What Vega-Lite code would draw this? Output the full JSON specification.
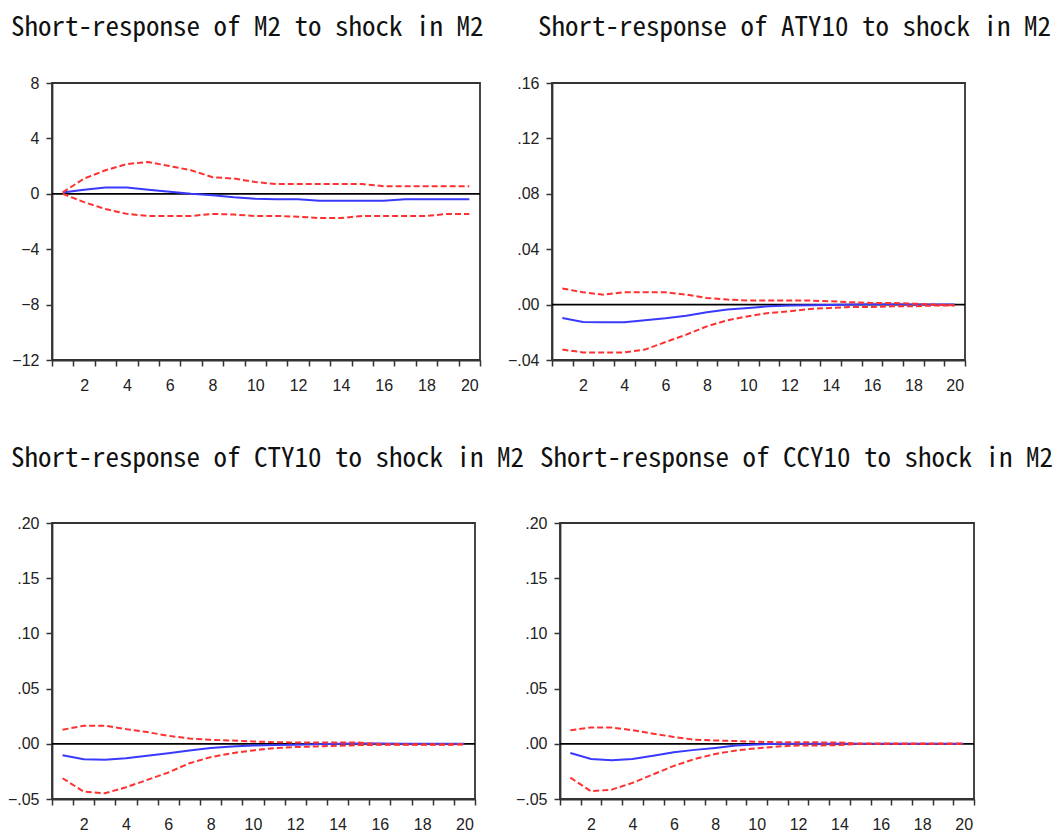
{
  "$schema": "https://vega.github.io/schema/vega-lite/v6.json",
  "padding": {"left": 6, "top": 13, "right": 0, "bottom": 0},
  "background": "white",
  "datasets": {
    "m2": [
      {"h":1,"r":0.1,"u":0.1,"l":0.0},{"h":2,"r":0.3,"u":1.1,"l":-0.6},{"h":3,"r":0.45,"u":1.7,"l":-1.1},{"h":4,"r":0.45,"u":2.15,"l":-1.45},{"h":5,"r":0.3,"u":2.3,"l":-1.6},
      {"h":6,"r":0.15,"u":2.0,"l":-1.6},{"h":7,"r":0.0,"u":1.7,"l":-1.6},{"h":8,"r":-0.1,"u":1.2,"l":-1.45},{"h":9,"r":-0.25,"u":1.1,"l":-1.5},{"h":10,"r":-0.35,"u":0.85,"l":-1.6},
      {"h":11,"r":-0.4,"u":0.7,"l":-1.6},{"h":12,"r":-0.4,"u":0.7,"l":-1.65},{"h":13,"r":-0.5,"u":0.7,"l":-1.75},{"h":14,"r":-0.5,"u":0.7,"l":-1.75},{"h":15,"r":-0.5,"u":0.7,"l":-1.6},
      {"h":16,"r":-0.5,"u":0.55,"l":-1.6},{"h":17,"r":-0.4,"u":0.55,"l":-1.6},{"h":18,"r":-0.4,"u":0.55,"l":-1.6},{"h":19,"r":-0.4,"u":0.55,"l":-1.45},{"h":20,"r":-0.4,"u":0.55,"l":-1.45}
    ],
    "aty": [
      {"h":1,"r":-0.0096,"u":0.0116,"l":-0.0325},{"h":2,"r":-0.0125,"u":0.0089,"l":-0.0345},{"h":3,"r":-0.0128,"u":0.0072,"l":-0.0345},{"h":4,"r":-0.0128,"u":0.0089,"l":-0.0345},{"h":5,"r":-0.0113,"u":0.0089,"l":-0.0325},
      {"h":6,"r":-0.0099,"u":0.0089,"l":-0.027},{"h":7,"r":-0.008,"u":0.0072,"l":-0.0217},{"h":8,"r":-0.0055,"u":0.0048,"l":-0.0157},{"h":9,"r":-0.0036,"u":0.0036,"l":-0.0113},{"h":10,"r":-0.0024,"u":0.0029,"l":-0.0084},
      {"h":11,"r":-0.0012,"u":0.0029,"l":-0.006},{"h":12,"r":-0.0007,"u":0.0029,"l":-0.0048},{"h":13,"r":-0.0005,"u":0.0029,"l":-0.0031},{"h":14,"r":-0.0003,"u":0.0024,"l":-0.0024},{"h":15,"r":0.0,"u":0.0017,"l":-0.0017},
      {"h":16,"r":0.0003,"u":0.0012,"l":-0.0017},{"h":17,"r":0.0002,"u":0.0012,"l":-0.0012},{"h":18,"r":0.0001,"u":0.0007,"l":-0.0012},{"h":19,"r":0.0,"u":0.0,"l":-0.0007},{"h":20,"r":0.0,"u":-0.0005,"l":-0.0007}
    ],
    "cty": [
      {"h":1,"r":-0.0103,"u":0.0127,"l":-0.0312},{"h":2,"r":-0.0139,"u":0.0164,"l":-0.0433},{"h":3,"r":-0.0145,"u":0.0164,"l":-0.0448},{"h":4,"r":-0.013,"u":0.0133,"l":-0.0394},{"h":5,"r":-0.0109,"u":0.0106,"l":-0.0327},
      {"h":6,"r":-0.0085,"u":0.0073,"l":-0.026},{"h":7,"r":-0.006,"u":0.0048,"l":-0.0176},{"h":8,"r":-0.0039,"u":0.0036,"l":-0.0121},{"h":9,"r":-0.0024,"u":0.003,"l":-0.0085},{"h":10,"r":-0.0015,"u":0.0021,"l":-0.006},
      {"h":11,"r":-0.0012,"u":0.0015,"l":-0.0039},{"h":12,"r":-0.0009,"u":0.0012,"l":-0.003},{"h":13,"r":-0.0003,"u":0.0012,"l":-0.0024},{"h":14,"r":0.0,"u":0.0012,"l":-0.0018},{"h":15,"r":0.0002,"u":0.0012,"l":-0.0012},
      {"h":16,"r":0.0002,"u":-0.0003,"l":-0.0009},{"h":17,"r":0.0001,"u":-0.0006,"l":-0.0009},{"h":18,"r":0.0,"u":-0.0006,"l":-0.0009},{"h":19,"r":0.0,"u":-0.0006,"l":-0.0009},{"h":20,"r":0.0,"u":-0.0003,"l":-0.0006}
    ],
    "ccy": [
      {"h":1,"r":-0.0083,"u":0.0123,"l":-0.0307},{"h":2,"r":-0.0138,"u":0.0148,"l":-0.043},{"h":3,"r":-0.0148,"u":0.0148,"l":-0.0415},{"h":4,"r":-0.0138,"u":0.0123,"l":-0.0354},{"h":5,"r":-0.0108,"u":0.0092,"l":-0.0277},
      {"h":6,"r":-0.0077,"u":0.0062,"l":-0.02},{"h":7,"r":-0.0055,"u":0.0037,"l":-0.0138},{"h":8,"r":-0.0037,"u":0.003,"l":-0.0092},{"h":9,"r":-0.0015,"u":0.0025,"l":-0.0061},{"h":10,"r":-0.0006,"u":0.0018,"l":-0.004},
      {"h":11,"r":0.0,"u":0.0015,"l":-0.0025},{"h":12,"r":0.0,"u":0.0015,"l":-0.0015},{"h":13,"r":0.0,"u":0.0013,"l":-0.0015},{"h":14,"r":0.0,"u":0.0012,"l":-0.0012},{"h":15,"r":0.0,"u":0.0,"l":0.0},
      {"h":16,"r":0.0,"u":0.0,"l":0.0},{"h":17,"r":0.0,"u":0.0,"l":0.0},{"h":18,"r":0.0,"u":0.0,"l":0.0},{"h":19,"r":0.0,"u":0.0,"l":0.0},{"h":20,"r":0.0,"u":0.0,"l":0.0}
    ]
  },
  "spacing": 50,
  "vconcat": [
    {
      "bounds": "flush",
      "spacing": 72,
      "hconcat": [
        {
          "width": 428, "height": 277,
          "title": {"text": "Short-response of M2 to shock in M2", "dx": -41, "offset": 33},
          "data": {"name": "m2"},
          "resolve": {"axis": {"x": "independent"}},
          "layer": [
            {"transform": [{"filter": "datum.h == 1"}], "mark": {"type": "rule", "color": "#000", "strokeWidth": 1.8}, "encoding": {"y": {"datum": 0, "type": "quantitative"}}},
            {"mark": {"type": "line", "color": "#3a3aff"}, "encoding": {
              "x": {"field": "h", "type": "quantitative", "title": null, "scale": {"domain": [0.5, 20.5], "nice": false, "zero": false},
                    "axis": {"orient": "bottom", "values": [0.5,1.5,2.5,3.5,4.5,5.5,6.5,7.5,8.5,9.5,10.5,11.5,12.5,13.5,14.5,15.5,16.5,17.5,18.5,19.5,20.5], "labels": false}},
              "y": {"field": "r", "type": "quantitative", "title": null, "scale": {"domain": [-12, 8], "nice": false, "zero": false},
                    "axis": {"values": [-12,-8,-4,0,4,8], "format": "d", "labelPadding": 7}}}},
            {"mark": {"type": "line", "color": "#ff3030", "strokeDash": [6, 3]}, "encoding": {
              "x": {"field": "h", "type": "quantitative", "title": null, "axis": {"orient": "bottom", "values": [2,4,6,8,10,12,14,16,18,20], "format": "d", "ticks": false, "domain": false, "labelPadding": 17, "offset": 0}},
              "y": {"field": "u", "type": "quantitative", "title": null}}},
            {"mark": {"type": "line", "color": "#ff3030", "strokeDash": [6, 3]}, "encoding": {"x": {"field": "h", "type": "quantitative", "title": null, "axis": null}, "y": {"field": "l", "type": "quantitative", "title": null}}}
          ]
        },
        {
          "width": 413, "height": 277,
          "title": {"text": "Short-response of ATY10 to shock in M2", "dx": -14, "offset": 33},
          "data": {"name": "aty"},
          "resolve": {"axis": {"x": "independent"}},
          "layer": [
            {"transform": [{"filter": "datum.h == 1"}], "mark": {"type": "rule", "color": "#000", "strokeWidth": 1.8}, "encoding": {"y": {"datum": 0, "type": "quantitative"}}},
            {"mark": {"type": "line", "color": "#3a3aff"}, "encoding": {
              "x": {"field": "h", "type": "quantitative", "title": null, "scale": {"domain": [0.5, 20.5], "nice": false, "zero": false},
                    "axis": {"orient": "bottom", "values": [0.5,1.5,2.5,3.5,4.5,5.5,6.5,7.5,8.5,9.5,10.5,11.5,12.5,13.5,14.5,15.5,16.5,17.5,18.5,19.5,20.5], "labels": false}},
              "y": {"field": "r", "type": "quantitative", "title": null, "scale": {"domain": [-0.04, 0.16], "nice": false, "zero": false},
                    "axis": {"values": [-0.04,0,0.04,0.08,0.12,0.16], "labelExpr": "replace(format(datum.value, '.2f'), '0.', '.')", "labelPadding": 7}}}},
            {"mark": {"type": "line", "color": "#ff3030", "strokeDash": [6, 3]}, "encoding": {
              "x": {"field": "h", "type": "quantitative", "title": null, "axis": {"orient": "bottom", "values": [2,4,6,8,10,12,14,16,18,20], "format": "d", "ticks": false, "domain": false, "labelPadding": 17, "offset": 0}},
              "y": {"field": "u", "type": "quantitative", "title": null}}},
            {"mark": {"type": "line", "color": "#ff3030", "strokeDash": [6, 3]}, "encoding": {"x": {"field": "h", "type": "quantitative", "title": null, "axis": null}, "y": {"field": "l", "type": "quantitative", "title": null}}}
          ]
        }
      ]
    },
    {
      "bounds": "flush",
      "spacing": 85,
      "hconcat": [
        {
          "width": 423, "height": 276,
          "title": {"text": "Short-response of CTY10 to shock in M2", "dx": -41, "offset": 42},
          "data": {"name": "cty"},
          "resolve": {"axis": {"x": "independent"}},
          "layer": [
            {"transform": [{"filter": "datum.h == 1"}], "mark": {"type": "rule", "color": "#000", "strokeWidth": 1.8}, "encoding": {"y": {"datum": 0, "type": "quantitative"}}},
            {"mark": {"type": "line", "color": "#3a3aff"}, "encoding": {
              "x": {"field": "h", "type": "quantitative", "title": null, "scale": {"domain": [0.5, 20.5], "nice": false, "zero": false},
                    "axis": {"orient": "bottom", "values": [0.5,1.5,2.5,3.5,4.5,5.5,6.5,7.5,8.5,9.5,10.5,11.5,12.5,13.5,14.5,15.5,16.5,17.5,18.5,19.5,20.5], "labels": false}},
              "y": {"field": "r", "type": "quantitative", "title": null, "scale": {"domain": [-0.05, 0.2], "nice": false, "zero": false},
                    "axis": {"values": [-0.05,0,0.05,0.1,0.15,0.2], "labelExpr": "replace(format(datum.value, '.2f'), '0.', '.')", "labelPadding": 7}}}},
            {"mark": {"type": "line", "color": "#ff3030", "strokeDash": [6, 3]}, "encoding": {
              "x": {"field": "h", "type": "quantitative", "title": null, "axis": {"orient": "bottom", "values": [2,4,6,8,10,12,14,16,18,20], "format": "d", "ticks": false, "domain": false, "labelPadding": 17, "offset": 0}},
              "y": {"field": "u", "type": "quantitative", "title": null}}},
            {"mark": {"type": "line", "color": "#ff3030", "strokeDash": [6, 3]}, "encoding": {"x": {"field": "h", "type": "quantitative", "title": null, "axis": null}, "y": {"field": "l", "type": "quantitative", "title": null}}}
          ]
        },
        {
          "width": 414, "height": 276,
          "title": {"text": "Short-response of CCY10 to shock in M2", "dx": -20, "offset": 42},
          "data": {"name": "ccy"},
          "resolve": {"axis": {"x": "independent"}},
          "layer": [
            {"transform": [{"filter": "datum.h == 1"}], "mark": {"type": "rule", "color": "#000", "strokeWidth": 1.8}, "encoding": {"y": {"datum": 0, "type": "quantitative"}}},
            {"mark": {"type": "line", "color": "#3a3aff"}, "encoding": {
              "x": {"field": "h", "type": "quantitative", "title": null, "scale": {"domain": [0.5, 20.5], "nice": false, "zero": false},
                    "axis": {"orient": "bottom", "values": [0.5,1.5,2.5,3.5,4.5,5.5,6.5,7.5,8.5,9.5,10.5,11.5,12.5,13.5,14.5,15.5,16.5,17.5,18.5,19.5,20.5], "labels": false}},
              "y": {"field": "r", "type": "quantitative", "title": null, "scale": {"domain": [-0.05, 0.2], "nice": false, "zero": false},
                    "axis": {"values": [-0.05,0,0.05,0.1,0.15,0.2], "labelExpr": "replace(format(datum.value, '.2f'), '0.', '.')", "labelPadding": 7}}}},
            {"mark": {"type": "line", "color": "#ff3030", "strokeDash": [6, 3]}, "encoding": {
              "x": {"field": "h", "type": "quantitative", "title": null, "axis": {"orient": "bottom", "values": [2,4,6,8,10,12,14,16,18,20], "format": "d", "ticks": false, "domain": false, "labelPadding": 17, "offset": 0}},
              "y": {"field": "u", "type": "quantitative", "title": null}}},
            {"mark": {"type": "line", "color": "#ff3030", "strokeDash": [6, 3]}, "encoding": {"x": {"field": "h", "type": "quantitative", "title": null, "axis": null}, "y": {"field": "l", "type": "quantitative", "title": null}}}
          ]
        }
      ]
    }
  ],
  "config": {
    "view": {"stroke": "#333", "strokeWidth": 1.8},
    "axis": {"domainColor": "#333", "domainWidth": 1.8, "tickColor": "#333", "tickWidth": 1.5, "tickSize": 6, "labelFont": "Liberation Sans", "labelFontSize": 16, "labelColor": "#222", "grid": false},
    "axisX": {"labelFlush": false},
    "title": {"font": "Noto Sans Mono CJK SC, Liberation Mono", "fontSize": 27, "fontWeight": "normal", "color": "#111", "anchor": "start", "frame": "group"},
    "line": {"strokeWidth": 2}
  }
}
